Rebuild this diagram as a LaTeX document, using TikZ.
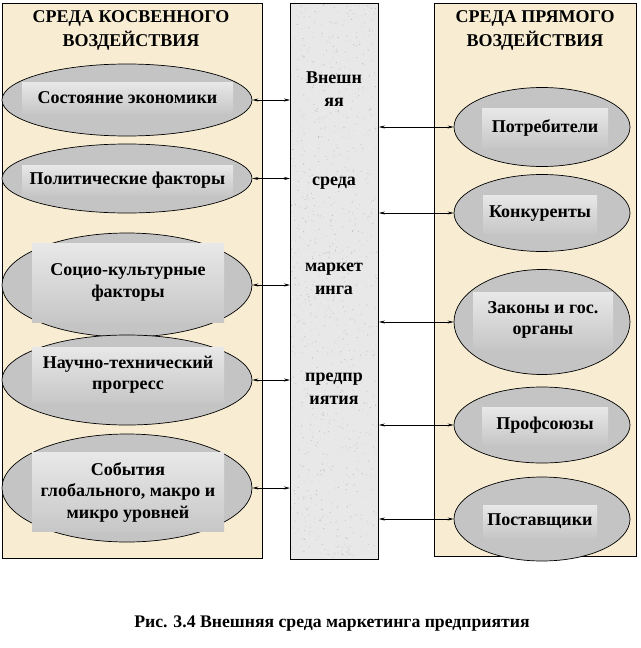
\documentclass[tikz,border=0pt]{standalone}
\usepackage{fontspec}
\setmainfont{Liberation Serif}
\usetikzlibrary{arrows.meta,shapes.geometric}
\definecolor{parch}{HTML}{F8EDD3}
\definecolor{granite}{HTML}{E8E8E8}
\definecolor{ellgray}{HTML}{C4C4C4}
\begin{document}
\begin{tikzpicture}[x=1pt,y=-1pt,
  panel/.style={draw=black, line width=0.8pt, anchor=north west, inner sep=0pt},
  ell/.style={ellipse, draw=black, line width=0.7pt, fill=ellgray, inner sep=0pt},
  lab/.style={shading=axis, top color=black!9, middle color=white, bottom color=black!22,
    inner sep=0pt, align=center, font=\fontsize{18}{21.5}\selectfont\bfseries},
  ttl/.style={align=center, font=\fontsize{18}{24}\selectfont\bfseries, inner sep=0pt},
  mtxt/.style={align=center, font=\fontsize{18}{23}\selectfont\bfseries, inner sep=0pt},
  conn/.style={{Stealth[length=6pt,width=3pt]}-{Stealth[length=6pt,width=3pt]}, line width=0.6pt}
]
\useasboundingbox (0,0) rectangle (640,648);
\fill[white] (0,0) rectangle (640,648);

% panels
\node[panel, fill=parch, minimum width=260pt, minimum height=555pt] (left) at (2,3) {};
\node[panel, fill=granite, minimum width=88pt, minimum height=556pt] (mid) at (290,3) {};
\node[panel, fill=parch, minimum width=202pt, minimum height=553pt] (right) at (434,3) {};

% granite speckles
\pgfmathsetseed{7}
\begin{scope}
  \clip (291,4) rectangle (377,558);
  \foreach \i in {1,...,1400}{
    \pgfmathsetmacro{\px}{291+86*rnd}
    \pgfmathsetmacro{\py}{4+554*rnd}
    \pgfmathsetmacro{\pc}{int(6+22*rnd)}
    \fill[black!\pc] (\px,\py) circle (0.6pt);
  }
\end{scope}
\draw[line width=0.8pt] (mid.north west) rectangle (mid.south east);

% titles
\node[ttl] (lt) at (131,30) {СРЕДА КОСВЕННОГО\\ВОЗДЕЙСТВИЯ};
\node[ttl] (rt) at (535,30) {СРЕДА ПРЯМОГО\\ВОЗДЕЙСТВИЯ};

% middle text
\node[mtxt] (m1) at (334,89.5) {Внешн\\яя};
\node[mtxt] (m2) at (334,183) {среда};
\node[mtxt] (m3) at (334,279) {маркет\\инга};
\node[mtxt] (m4) at (334,389) {предпр\\иятия};

% left ellipses
\node[ell, minimum width=250pt, minimum height=72pt] (L1) at (127,100) {};
\node[lab, minimum width=211pt, minimum height=31pt] (L1t) at (127.5,97.5) {Состояние экономики};
\node[ell, minimum width=250pt, minimum height=69pt] (L2) at (127,178.5) {};
\node[lab, minimum width=211pt, minimum height=30pt] (L2t) at (127.5,180) {Политические факторы};
\node[ell, minimum width=250pt, minimum height=104pt] (L3) at (127,285) {};
\node[lab, minimum width=192pt, minimum height=79pt] (L3t) at (128,282.5) {Социо-культурные\\факторы};
\node[ell, minimum width=250pt, minimum height=90pt] (L4) at (127,380) {};
\node[lab, minimum width=192pt, minimum height=55pt] (L4t) at (128,374.5) {Научно-технический\\прогресс};
\node[ell, minimum width=250pt, minimum height=108pt] (L5) at (127,488) {};
\node[lab, minimum width=192pt, minimum height=79pt] (L5t) at (128,492) {События\\глобального, макро и\\микро уровней};

% right ellipses
\node[ell, minimum width=176pt, minimum height=79pt] (R1) at (542,127) {};
\node[lab, minimum width=126pt, minimum height=39pt] (R1t) at (545,127.5) {Потребители};
\node[ell, minimum width=176pt, minimum height=77pt] (R2) at (542,213) {};
\node[lab, minimum width=114pt, minimum height=38pt] (R2t) at (540,214) {Конкуренты};
\node[ell, minimum width=176pt, minimum height=105pt] (R3) at (542,322) {};
\node[lab, minimum width=140pt, minimum height=56pt] (R3t) at (543,320) {Законы и гос.\\органы};
\node[ell, minimum width=176pt, minimum height=76pt] (R4) at (542,425) {};
\node[lab, minimum width=126pt, minimum height=37pt] (R4t) at (545,425.5) {Профсоюзы};
\node[ell, minimum width=176pt, minimum height=84pt] (R5) at (542,519) {};
\node[lab, minimum width=114pt, minimum height=32pt] (R5t) at (540,521) {Поставщики};

% connectors
\foreach \e in {L1,L2,L3,L4,L5}{
  \draw[conn] (\e.east) -- (\e.east -| mid.west);
}
\foreach \e in {R1,R2,R3,R4,R5}{
  \draw[conn] (\e.west -| mid.east) -- (\e.west);
}

% caption
\node[font=\fontsize{17.7}{20}\selectfont\bfseries, inner sep=0pt] (cap) at (332,624) {Рис. 3.4 Внешняя среда маркетинга предприятия};
\end{tikzpicture}
\end{document}
